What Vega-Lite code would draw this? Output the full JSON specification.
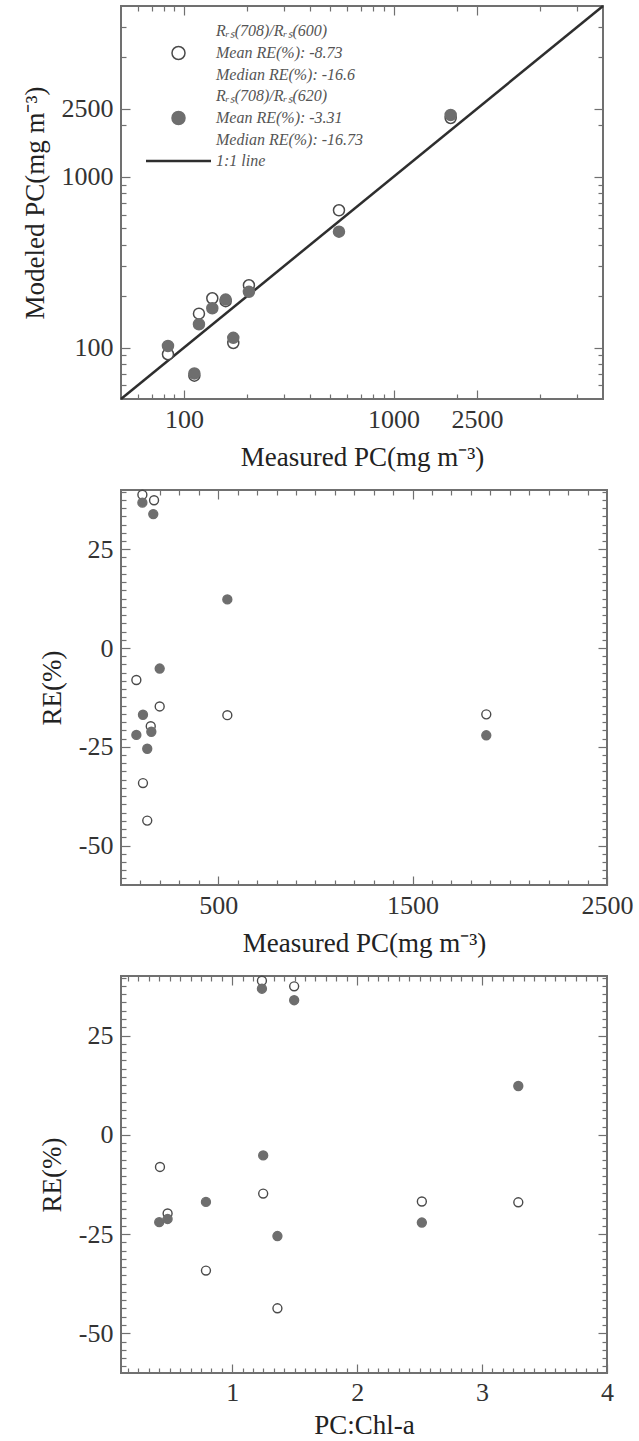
{
  "$schema": "https://vega.github.io/schema/vega-lite/v6.json",
  "background": "white",
  "padding": {"left": 20, "top": 0, "right": 0, "bottom": 0},
  "spacing": 91,
  "bounds": "flush",
  "resolve": {
    "scale": {"fill": "independent", "stroke": "independent", "shape": "independent"},
    "legend": {"fill": "independent", "stroke": "independent", "shape": "independent"}
  },
  "vconcat": [
    {
      "width": 482,
      "height": 393,
      "layer": [
        {
          "data": {"values": [
            {"measured": 50, "modeled": 50, "s": "L"},
            {"measured": 10000, "modeled": 10000, "s": "L"}
          ]},
          "mark": {"type": "line", "strokeWidth": 2.5},
          "encoding": {
            "x": {"field": "measured", "type": "quantitative",
              "scale": {"type": "log", "domain": [50, 10000], "nice": false},
              "axis": {"orient": "bottom", "values": [60,70,80,90,100,200,300,400,500,600,700,800,900,1000,2000,2500,5000,7500],
                "labelExpr": "datum.value == 100 ? '100' : datum.value == 1000 ? '1000' : datum.value == 2500 ? '2500' : ''",
                "tickSize": {"condition": {"test": "datum.value == 100 || datum.value == 1000 || datum.value == 2500", "value": -9}, "value": -5},
                "labelPadding": 16, "labelFlush": false, "labelOverlap": false,
                "title": "Measured PC(mg m⁻³)", "titlePadding": 8}},
            "y": {"field": "modeled", "type": "quantitative",
              "scale": {"type": "log", "domain": [50, 10000], "nice": false},
              "axis": {"orient": "left", "values": [60,70,80,90,100,200,300,400,500,600,700,800,900,1000,2000,2500,5000,7500],
                "labelExpr": "datum.value == 100 ? '100' : datum.value == 1000 ? '1000' : datum.value == 2500 ? '2500' : ''",
                "tickSize": {"condition": {"test": "datum.value == 100 || datum.value == 1000 || datum.value == 2500", "value": -9}, "value": -5},
                "labelPadding": 17, "labelOverlap": false, "labelFlush": false,
                "title": "Modeled PC(mg m⁻³)", "titlePadding": 12}},
            "stroke": {"field": "s", "type": "nominal",
              "scale": {"domain": ["A", "B", "L"], "range": ["#4a4a4a", "#6e6e6e", "#2e2e2e"]},
              "legend": {"title": null, "orient": "none", "legendX": 24, "legendY": 39, "padding": 0, "rowPadding": 5, "symbolSize": 4225,
                "labelFont": "Liberation Serif", "labelFontStyle": "italic", "labelFontSize": 16, "labelColor": "#555",
                "labelOffset": 4, "labelLimit": 300,
                "labelExpr": "datum.value == 'A' ? ['Rᵣₛ(708)/Rᵣₛ(600)', 'Mean RE(%): -8.73', 'Median RE(%): -16.6'] : datum.value == 'B' ? ['Rᵣₛ(708)/Rᵣₛ(620)', 'Mean RE(%): -3.31', 'Median RE(%): -16.73'] : '1:1 line'",
                "encode": {
                  "symbols": {"update": {"x": {"value": 33.5}, "strokeWidth": {"signal": "datum.value === 'L' ? 2.5 : 1.5"}}},
                  "labels": {"update": {"x": {"value": 71}, "lineHeight": {"value": 22}, "dy": {"signal": "datum.value === 'L' ? 0 : -22"}}}
                }}}
          }
        },
        {
          "data": {"values": [
            {"measured": 83.8, "modeled": 91.4, "s": "A"},
            {"measured": 112, "modeled": 68.5, "s": "A"},
            {"measured": 117.8, "modeled": 157.9, "s": "A"},
            {"measured": 136.4, "modeled": 194.4, "s": "A"},
            {"measured": 158, "modeled": 187, "s": "A"},
            {"measured": 171.8, "modeled": 106.4, "s": "A"},
            {"measured": 204, "modeled": 231.6, "s": "A"},
            {"measured": 549, "modeled": 636.7, "s": "A"},
            {"measured": 1874, "modeled": 2209, "s": "A"},
            {"measured": 83.8, "modeled": 102.2, "s": "B"},
            {"measured": 112, "modeled": 70.5, "s": "B"},
            {"measured": 117.8, "modeled": 136.9, "s": "B"},
            {"measured": 136.4, "modeled": 169.9, "s": "B"},
            {"measured": 158, "modeled": 191, "s": "B"},
            {"measured": 171.8, "modeled": 114, "s": "B"},
            {"measured": 204, "modeled": 212, "s": "B"},
            {"measured": 549, "modeled": 477, "s": "B"},
            {"measured": 1874, "modeled": 2300, "s": "B"}
          ]},
          "mark": {"type": "point", "filled": true, "opacity": 1, "strokeWidth": 1.5, "size": 3025},
          "encoding": {
            "x": {"field": "measured", "type": "quantitative", "axis": null},
            "y": {"field": "modeled", "type": "quantitative", "axis": null},
            "fill": {"field": "s", "type": "nominal",
              "scale": {"domain": ["A", "B", "L"], "range": ["white", "#6e6e6e", "transparent"]},
              "legend": {"title": null, "orient": "none", "legendX": 24, "legendY": 39, "padding": 0, "rowPadding": 5, "symbolSize": 4225,
                "labelFont": "Liberation Serif", "labelFontStyle": "italic", "labelFontSize": 16, "labelColor": "#555",
                "labelOffset": 4, "labelLimit": 300,
                "labelExpr": "datum.value == 'A' ? ['Rᵣₛ(708)/Rᵣₛ(600)', 'Mean RE(%): -8.73', 'Median RE(%): -16.6'] : datum.value == 'B' ? ['Rᵣₛ(708)/Rᵣₛ(620)', 'Mean RE(%): -3.31', 'Median RE(%): -16.73'] : '1:1 line'",
                "encode": {
                  "symbols": {"update": {"x": {"value": 33.5}, "strokeWidth": {"signal": "datum.value === 'L' ? 2.5 : 1.5"}}},
                  "labels": {"update": {"x": {"value": 71}, "lineHeight": {"value": 22}, "dy": {"signal": "datum.value === 'L' ? 0 : -22"}}}
                }}},
            "stroke": {"field": "s", "type": "nominal"},
            "shape": {"field": "s", "type": "nominal",
              "scale": {"domain": ["A", "B", "L"], "range": ["M0.2,0A0.2,0.2,0,1,1,-0.2,0A0.2,0.2,0,1,1,0.2,0Z", "M0.2,0A0.2,0.2,0,1,1,-0.2,0A0.2,0.2,0,1,1,0.2,0Z", "M-1,0L1,0"]},
              "legend": {"title": null, "orient": "none", "legendX": 24, "legendY": 39, "padding": 0, "rowPadding": 5, "symbolSize": 4225,
                "labelFont": "Liberation Serif", "labelFontStyle": "italic", "labelFontSize": 16, "labelColor": "#555",
                "labelOffset": 4, "labelLimit": 300,
                "labelExpr": "datum.value == 'A' ? ['Rᵣₛ(708)/Rᵣₛ(600)', 'Mean RE(%): -8.73', 'Median RE(%): -16.6'] : datum.value == 'B' ? ['Rᵣₛ(708)/Rᵣₛ(620)', 'Mean RE(%): -3.31', 'Median RE(%): -16.73'] : '1:1 line'",
                "encode": {
                  "symbols": {"update": {"x": {"value": 33.5}, "strokeWidth": {"signal": "datum.value === 'L' ? 2.5 : 1.5"}}},
                  "labels": {"update": {"x": {"value": 71}, "lineHeight": {"value": 22}, "dy": {"signal": "datum.value === 'L' ? 0 : -22"}}}
                }}}
          }
        },
        {
          "mark": {"type": "text", "font": "Liberation Serif", "fontSize": 22, "color": "#333", "align": "center", "baseline": "middle"},
          "encoding": {
            "x": {"datum": 7700, "type": "quantitative",
              "axis": {"orient": "top", "values": [60,70,80,90,100,200,300,400,500,600,700,800,900,1000,2000,2500,5000,7500], "labels": false, "title": null,
                "tickSize": {"condition": {"test": "datum.value == 100 || datum.value == 1000 || datum.value == 2500", "value": -9}, "value": -5}}},
            "y": {"datum": 73, "type": "quantitative",
              "axis": {"orient": "right", "values": [60,70,80,90,100,200,300,400,500,600,700,800,900,1000,2000,2500,5000,7500], "labels": false, "title": null,
                "tickSize": {"condition": {"test": "datum.value == 100 || datum.value == 1000 || datum.value == 2500", "value": -9}, "value": -5}}},
            "text": {"value": "(a)"}
          }
        }
      ],
      "resolve": {"axis": {"x": "independent", "y": "independent"}}
    },
    {
      "width": 486,
      "height": 395,
      "layer": [
        {
          "mark": {"type": "rule", "color": "#666", "strokeWidth": 1.5},
          "encoding": {"y": {"datum": 0, "type": "quantitative", "axis": null}}
        },
        {
          "data": {"values": [
            {"measured": 110, "re": 38.8, "s": "A"},
            {"measured": 170, "re": 37.4, "s": "A"},
            {"measured": 79, "re": -8.1, "s": "A"},
            {"measured": 199, "re": -14.8, "s": "A"},
            {"measured": 547, "re": -17.0, "s": "A"},
            {"measured": 153, "re": -19.8, "s": "A"},
            {"measured": 113, "re": -34.2, "s": "A"},
            {"measured": 135, "re": -43.7, "s": "A"},
            {"measured": 1879, "re": -16.8, "s": "A"},
            {"measured": 110, "re": 36.8, "s": "B"},
            {"measured": 166, "re": 33.9, "s": "B"},
            {"measured": 547, "re": 12.3, "s": "B"},
            {"measured": 199, "re": -5.2, "s": "B"},
            {"measured": 113, "re": -16.9, "s": "B"},
            {"measured": 79, "re": -22.0, "s": "B"},
            {"measured": 156, "re": -21.2, "s": "B"},
            {"measured": 135, "re": -25.5, "s": "B"},
            {"measured": 1879, "re": -22.1, "s": "B"}
          ]},
          "mark": {"type": "point", "filled": true, "opacity": 1, "strokeWidth": 1.4, "size": 80},
          "encoding": {
            "x": {"field": "measured", "type": "quantitative",
              "scale": {"domain": [0, 2500], "nice": false, "zero": false},
              "axis": {"orient": "bottom", "values": [100,200,300,400,500,600,700,800,900,1000,1100,1200,1300,1400,1500,1600,1700,1800,1900,2000,2100,2200,2300,2400,2500],
                "labelExpr": "datum.value == 500 ? '500' : datum.value == 1500 ? '1500' : datum.value == 2500 ? '2500' : ''",
                "tickSize": {"condition": {"test": "datum.value == 500 || datum.value == 1500 || datum.value == 2500", "value": -9}, "value": -5},
                "labelPadding": 16, "labelFlush": false, "labelOverlap": false,
                "title": "Measured PC(mg m⁻³)", "titlePadding": 8}},
            "y": {"field": "re", "type": "quantitative",
              "scale": {"domain": [-60, 40], "nice": false, "zero": false},
              "axis": {"orient": "left", "values": [-58.333,-56.25,-54.167,-52.083,-50,-47.917,-45.833,-43.75,-41.667,-39.583,-37.5,-35.417,-33.333,-31.25,-29.167,-27.083,-25,-22.917,-20.833,-18.75,-16.667,-14.583,-12.5,-10.417,-8.333,-6.25,-4.167,-2.083,0,2.083,4.167,6.25,8.333,10.417,12.5,14.583,16.667,18.75,20.833,22.917,25,27.083,29.167,31.25,33.333,35.417,37.5,39.583],
                "labelExpr": "datum.value == -50 ? '-50' : datum.value == -25 ? '-25' : datum.value == 0 ? '0' : datum.value == 25 ? '25' : ''",
                "tickSize": {"condition": {"test": "datum.value == -50 || datum.value == -25 || datum.value == 0 || datum.value == 25", "value": -9}, "value": -5},
                "labelPadding": 17, "labelOverlap": false, "labelFlush": false,
                "title": "RE(%)", "titlePadding": 12}},
            "fill": {"field": "s", "type": "nominal", "scale": {"domain": ["A", "B"], "range": ["white", "#6e6e6e"]}, "legend": null},
            "stroke": {"field": "s", "type": "nominal", "scale": {"domain": ["A", "B"], "range": ["#4a4a4a", "#6e6e6e"]}, "legend": null}
          }
        },
        {
          "mark": {"type": "text", "font": "Liberation Serif", "fontSize": 22, "color": "#333", "align": "center", "baseline": "middle"},
          "encoding": {
            "x": {"datum": 2376, "type": "quantitative",
              "axis": {"orient": "top", "values": [100,200,300,400,500,600,700,800,900,1000,1100,1200,1300,1400,1500,1600,1700,1800,1900,2000,2100,2200,2300,2400], "labels": false, "title": null,
                "tickSize": {"condition": {"test": "datum.value == 500 || datum.value == 1500", "value": -9}, "value": -5}}},
            "y": {"datum": -52.5, "type": "quantitative",
              "axis": {"orient": "right", "values": [-58.333,-56.25,-54.167,-52.083,-50,-47.917,-45.833,-43.75,-41.667,-39.583,-37.5,-35.417,-33.333,-31.25,-29.167,-27.083,-25,-22.917,-20.833,-18.75,-16.667,-14.583,-12.5,-10.417,-8.333,-6.25,-4.167,-2.083,0,2.083,4.167,6.25,8.333,10.417,12.5,14.583,16.667,18.75,20.833,22.917,25,27.083,29.167,31.25,33.333,35.417,37.5,39.583], "labels": false, "title": null,
                "tickSize": {"condition": {"test": "datum.value == -50 || datum.value == -25 || datum.value == 0 || datum.value == 25", "value": -9}, "value": -5}}},
            "text": {"value": "(b)"}
          }
        }
      ],
      "resolve": {"axis": {"x": "independent", "y": "independent"}}
    },
    {
      "width": 486,
      "height": 397,
      "layer": [
        {
          "mark": {"type": "rule", "color": "#666", "strokeWidth": 1.5},
          "encoding": {"y": {"datum": 0, "type": "quantitative", "axis": null}}
        },
        {
          "data": {"values": [
            {"ratio": 1.238, "re": 38.8, "s": "A"},
            {"ratio": 1.496, "re": 37.4, "s": "A"},
            {"ratio": 0.422, "re": -8.1, "s": "A"},
            {"ratio": 1.248, "re": -14.8, "s": "A"},
            {"ratio": 3.29, "re": -17.0, "s": "A"},
            {"ratio": 0.483, "re": -19.8, "s": "A"},
            {"ratio": 0.79, "re": -34.2, "s": "A"},
            {"ratio": 1.362, "re": -43.7, "s": "A"},
            {"ratio": 2.518, "re": -16.8, "s": "A"},
            {"ratio": 1.238, "re": 36.8, "s": "B"},
            {"ratio": 1.496, "re": 33.9, "s": "B"},
            {"ratio": 3.29, "re": 12.3, "s": "B"},
            {"ratio": 1.248, "re": -5.2, "s": "B"},
            {"ratio": 0.79, "re": -16.9, "s": "B"},
            {"ratio": 0.416, "re": -22.0, "s": "B"},
            {"ratio": 0.483, "re": -21.2, "s": "B"},
            {"ratio": 1.362, "re": -25.5, "s": "B"},
            {"ratio": 2.518, "re": -22.1, "s": "B"}
          ]},
          "mark": {"type": "point", "filled": true, "opacity": 1, "strokeWidth": 1.4, "size": 80},
          "encoding": {
            "x": {"field": "ratio", "type": "quantitative",
              "scale": {"domain": [0.11, 4], "nice": false, "zero": false},
              "axis": {"orient": "bottom", "values": [0.1667,0.25,0.3333,0.4167,0.5,0.5833,0.6667,0.75,0.8333,0.9167,1,1.0833,1.1667,1.25,1.3333,1.4167,1.5,1.5833,1.6667,1.75,1.8333,1.9167,2,2.0833,2.1667,2.25,2.3333,2.4167,2.5,2.5833,2.6667,2.75,2.8333,2.9167,3,3.0833,3.1667,3.25,3.3333,3.4167,3.5,3.5833,3.6667,3.75,3.8333,3.9167,4],
                "labelExpr": "datum.value == 1 ? '1' : datum.value == 2 ? '2' : datum.value == 3 ? '3' : datum.value == 4 ? '4' : ''",
                "tickSize": {"condition": {"test": "datum.value == 1 || datum.value == 2 || datum.value == 3 || datum.value == 4", "value": -9}, "value": -5},
                "labelPadding": 15, "labelFlush": false, "labelOverlap": false,
                "title": "PC:Chl-a", "titlePadding": 3}},
            "y": {"field": "re", "type": "quantitative",
              "scale": {"domain": [-60, 40], "nice": false, "zero": false},
              "axis": {"orient": "left", "values": [-58.333,-56.25,-54.167,-52.083,-50,-47.917,-45.833,-43.75,-41.667,-39.583,-37.5,-35.417,-33.333,-31.25,-29.167,-27.083,-25,-22.917,-20.833,-18.75,-16.667,-14.583,-12.5,-10.417,-8.333,-6.25,-4.167,-2.083,0,2.083,4.167,6.25,8.333,10.417,12.5,14.583,16.667,18.75,20.833,22.917,25,27.083,29.167,31.25,33.333,35.417,37.5,39.583],
                "labelExpr": "datum.value == -50 ? '-50' : datum.value == -25 ? '-25' : datum.value == 0 ? '0' : datum.value == 25 ? '25' : ''",
                "tickSize": {"condition": {"test": "datum.value == -50 || datum.value == -25 || datum.value == 0 || datum.value == 25", "value": -9}, "value": -5},
                "labelPadding": 17, "labelOverlap": false, "labelFlush": false,
                "title": "RE(%)", "titlePadding": 12}},
            "fill": {"field": "s", "type": "nominal", "scale": {"domain": ["A", "B"], "range": ["white", "#6e6e6e"]}, "legend": null},
            "stroke": {"field": "s", "type": "nominal", "scale": {"domain": ["A", "B"], "range": ["#4a4a4a", "#6e6e6e"]}, "legend": null}
          }
        },
        {
          "mark": {"type": "text", "font": "Liberation Serif", "fontSize": 22, "color": "#333", "align": "center", "baseline": "middle"},
          "encoding": {
            "x": {"datum": 3.83, "type": "quantitative",
              "axis": {"orient": "top", "values": [0.1667,0.25,0.3333,0.4167,0.5,0.5833,0.6667,0.75,0.8333,0.9167,1,1.0833,1.1667,1.25,1.3333,1.4167,1.5,1.5833,1.6667,1.75,1.8333,1.9167,2,2.0833,2.1667,2.25,2.3333,2.4167,2.5,2.5833,2.6667,2.75,2.8333,2.9167,3,3.0833,3.1667,3.25,3.3333,3.4167,3.5,3.5833,3.6667,3.75,3.8333,3.9167], "labels": false, "title": null,
                "tickSize": {"condition": {"test": "datum.value == 1 || datum.value == 2 || datum.value == 3", "value": -9}, "value": -5}}},
            "y": {"datum": -57, "type": "quantitative",
              "axis": {"orient": "right", "values": [-58.333,-56.25,-54.167,-52.083,-50,-47.917,-45.833,-43.75,-41.667,-39.583,-37.5,-35.417,-33.333,-31.25,-29.167,-27.083,-25,-22.917,-20.833,-18.75,-16.667,-14.583,-12.5,-10.417,-8.333,-6.25,-4.167,-2.083,0,2.083,4.167,6.25,8.333,10.417,12.5,14.583,16.667,18.75,20.833,22.917,25,27.083,29.167,31.25,33.333,35.417,37.5,39.583], "labels": false, "title": null,
                "tickSize": {"condition": {"test": "datum.value == -50 || datum.value == -25 || datum.value == 0 || datum.value == 25", "value": -9}, "value": -5}}},
            "text": {"value": "(c)"}
          }
        }
      ],
      "resolve": {"axis": {"x": "independent", "y": "independent"}}
    }
  ],
  "config": {
    "view": {"stroke": "#707070", "strokeWidth": 2},
    "axis": {
      "labelFont": "Liberation Serif", "titleFont": "Liberation Serif",
      "labelFontSize": 26, "titleFontSize": 27,
      "labelColor": "#333", "titleColor": "#222", "titleFontWeight": "normal",
      "tickColor": "#707070", "tickWidth": 1.2, "grid": false, "domain": false
    },
    "text": {"font": "Liberation Serif"}
  }
}
